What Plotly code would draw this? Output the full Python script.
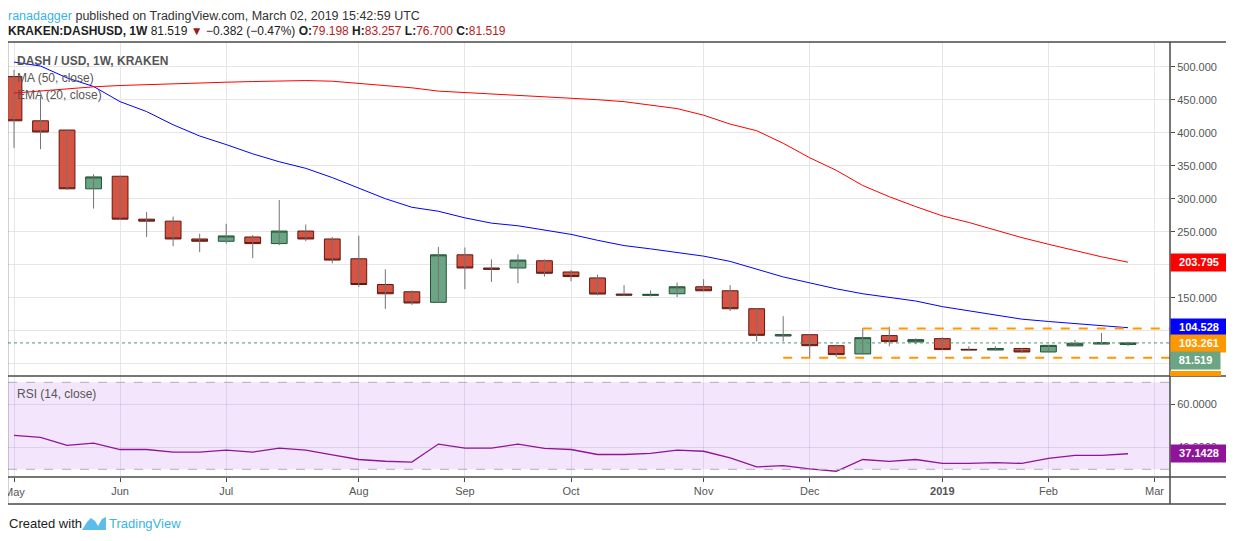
import pandas as pd
import plotly.graph_objects as go

# weekly candles, KRAKEN:DASHUSD
weeks = pd.date_range("2018-05-07", periods=43, freq="7D")

opens = [485, 418, 404, 315, 334, 269, 266, 239, 235.5, 242, 232, 251, 239, 209, 170, 159,
         143, 215, 195, 195, 206, 189, 180, 155.5, 153.5, 156, 166.6, 160.5, 133.3, 92,
         94, 77.3, 64.8, 92.6, 83, 88, 71.8, 70.8, 73.1, 67.8, 77, 79.8, 79.198]
highs = [495, 455, 405, 337, 335, 280, 273, 247, 262, 245, 298, 261, 242, 244, 193, 161,
         227, 226, 208, 215.5, 208, 192, 185, 169, 161, 173, 178, 169, 134, 122,
         94.5, 79, 104, 106, 88.5, 90, 76.4, 76.5, 74, 78.5, 86, 96.5, 83.257]
lows = [377, 375, 313, 285, 268, 242, 228, 219, 232, 210, 229.5, 235.5, 202, 166, 133, 139,
        142, 163, 174, 172, 182, 175, 153.5, 153, 152, 151, 160, 130, 84, 83.5,
        59.6, 60.5, 64, 76.4, 79.4, 70.5, 69.3, 70, 67, 67.5, 76.5, 79, 76.7]
closes = [418, 401, 315, 333, 269, 266, 239, 235.5, 243.6, 232, 251, 239, 207, 170, 156, 142,
          215, 195, 193, 207, 187, 182, 155.5, 154, 155, 166.6, 160.5, 133.3, 93, 94,
          77.3, 63.8, 89.5, 83.5, 86.5, 71.4, 71, 73.1, 67.8, 77.8, 81, 81.901, 81.519]

ma50 = [460, 463, 467, 469.5, 471.5, 473, 474.5, 475.5, 476.5, 477.5, 478.2, 479, 478, 475,
        472, 468, 463, 461, 458, 456.5, 454, 452, 450, 447, 442, 436.5, 426.5, 413, 403,
        384, 362, 343, 320, 303, 288, 274, 264, 252, 241, 231, 221, 212, 203.795]
ema20 = [507, 501, 483, 470, 447, 432, 412, 395, 382, 368, 356, 346, 332, 316, 300, 287,
         281, 271, 263, 259, 252, 246, 237, 229, 224, 218, 213, 205, 193, 181.5, 172.5,
         163.5, 156, 151, 145, 136.5, 130, 123.5, 117.5, 114, 111, 108, 104.528]
rsi14 = [45.6, 44.7, 41.0, 42.0, 39.1, 39.1, 37.9, 37.9, 38.8, 37.9, 39.7, 38.8, 36.6, 34.5,
         33.7, 33.3, 41.6, 39.7, 39.7, 41.6, 39.6, 39.1, 36.8, 36.8, 37.3, 38.8, 38.3, 35.3,
         31.1, 31.7, 30.2, 29.1, 34.5, 33.6, 34.5, 32.7, 32.7, 33.1, 32.7, 35.0, 36.4, 36.4,
         37.1428]

resistance = 103.261
resistance_from = 32      # week index where the ray starts
support = 59.0
support_from = 29
last_close = 81.519

month_ticks = ["2018-05-07", "2018-06-04", "2018-07-02", "2018-08-06", "2018-09-03",
               "2018-10-01", "2018-11-05", "2018-12-03", "2019-01-07", "2019-02-04",
               "2019-03-04"]
month_text = ["May", "Jun", "Jul", "Aug", "Sep", "Oct", "Nov", "Dec", "<b>2019</b>", "Feb", "Mar"]
price_ticks = [50, 100, 150, 200, 250, 300, 350, 400, 450, 500]
price_text = ["", "", "150.000", "", "250.000", "300.000", "350.000", "400.000", "450.000", "500.000"]
rsi_ticks = [40, 60]
rsi_text = ["40.0000", "60.0000"]

x_range = ["2018-05-05 10:00", "2019-03-08 02:00"]
x_end = x_range[1]

# the page puts the figure 8px in from the top-left corner
OFF = 8
FW, FH = 1234 - OFF, 541 - OFF
L, R, T, B = 0, 64, 34, 64


def px(x):
    return (x - OFF - L) / (FW - L - R)


def py(y):
    return (FH - B - (y - OFF)) / (FH - T - B)


split = py(376)
FONT = "Liberation Sans"
GREY = "#4a4a4a"
TICKFONT = dict(family=FONT, size=11, color="#555555")

fig = go.Figure()

# wicks
wx, wy = [], []
for d, lo, hi in zip(weeks, lows, highs):
    wx += [d, d, None]
    wy += [lo, hi, None]
fig.add_trace(go.Scatter(x=wx, y=wy, mode="lines", line=dict(color="#737375", width=1),
                         hoverinfo="skip", showlegend=False))

# bodies
fig.add_trace(go.Candlestick(
    x=weeks, open=opens, close=closes,
    high=[max(o, c) for o, c in zip(opens, closes)],
    low=[min(o, c) for o, c in zip(opens, closes)],
    increasing=dict(fillcolor="#6BA583", line=dict(color="#225437", width=1)),
    decreasing=dict(fillcolor="#D75442", line=dict(color="#5B1A13", width=1)),
    whiskerwidth=0, showlegend=False, hoverinfo="skip"))

fig.add_trace(go.Scatter(x=weeks, y=ema20, mode="lines", line=dict(color="#0000FF", width=1),
                         showlegend=False, hoverinfo="skip"))
fig.add_trace(go.Scatter(x=weeks, y=ma50, mode="lines", line=dict(color="#FF0000", width=1),
                         showlegend=False, hoverinfo="skip"))

# horizontal rays
fig.add_trace(go.Scatter(x=[weeks[resistance_from], x_end], y=[resistance, resistance],
                         mode="lines", line=dict(color="#FF9800", width=2, dash="dash"),
                         showlegend=False, hoverinfo="skip"))
fig.add_trace(go.Scatter(x=[weeks[support_from], x_end], y=[support, support],
                         mode="lines", line=dict(color="#FF9800", width=2, dash="dash"),
                         showlegend=False, hoverinfo="skip"))

# RSI
fig.add_trace(go.Scatter(x=weeks, y=rsi14, mode="lines", line=dict(color="#8E1599", width=1.3),
                         xaxis="x2", yaxis="y2", showlegend=False, hoverinfo="skip"))

right_edge = px(1227.5)
shapes = [
    dict(type="rect", xref="paper", yref="y2", x0=0, x1=1, y0=30, y1=70,
         fillcolor="#F3E6FC", line=dict(width=0), layer="below"),
    dict(type="line", xref="paper", yref="y2", x0=0, x1=1, y0=70, y1=70,
         line=dict(color="#B4ABBE", width=1, dash="dash")),
    dict(type="line", xref="paper", yref="y2", x0=0, x1=1, y0=30, y1=30,
         line=dict(color="#B4ABBE", width=1, dash="dash")),
    dict(type="line", xref="paper", yref="y", x0=0, x1=1, y0=last_close, y1=last_close,
         line=dict(color="#4C9A6E", width=1, dash="dot")),
    # frame
    dict(type="rect", xref="paper", yref="paper", x0=px(7.5), x1=right_edge, y0=py(504), y1=1,
         line=dict(color=GREY, width=1.5)),
    dict(type="line", xref="paper", yref="paper", x0=1, x1=1, y0=py(504), y1=1,
         line=dict(color=GREY, width=1.5)),
    dict(type="line", xref="paper", yref="paper", x0=px(7.5), x1=right_edge, y0=split, y1=split,
         line=dict(color=GREY, width=1.5)),
    dict(type="line", xref="paper", yref="paper", x0=px(7.5), x1=right_edge, y0=0, y1=0,
         line=dict(color=GREY, width=1.5)),
    # clipped orange price tag
    dict(type="rect", xref="paper", yref="paper", x0=1, x1=px(1221), y0=py(376), y1=py(371),
         fillcolor="#FF9800", line=dict(width=0)),
]

# small logo next to footer text
logo = [(82, 530), (87, 522), (91, 518), (95, 521), (98, 526), (102, 519), (106, 517),
        (106, 530)]
path = "M " + " L ".join(f"{px(x):.4f},{py(y):.4f}" for x, y in logo) + " Z"
shapes.append(dict(type="path", xref="paper", yref="paper", path=path,
                   fillcolor="#5CBDEA", line=dict(width=0)))


def note(x, y, text, size=12, color="#555555", **kw):
    return dict(x=px(x), y=py(y), xref="paper", yref="paper", xanchor="left",
                yanchor="middle", showarrow=False, text=text,
                font=dict(family=FONT, size=size, color=color), **kw)


annotations = [
    note(7, 16, '<span style="color:#3BB3E4">ranadagger</span> published on TradingView.com, '
                'March 02, 2019 15:42:59 UTC', size=12.5, color="#333333", borderpad=0),
    note(7, 31, '<b>KRAKEN:DASHUSD, 1W</b> 81.519 <span style="color:#9B1B1B">▼</span> '
                '−0.382 (−0.47%) <b>O:</b><span style="color:#B71C1C">79.198</span> '
                '<b>H:</b><span style="color:#B71C1C">83.257</span> '
                '<b>L:</b><span style="color:#B71C1C">76.700</span> '
                '<b>C:</b><span style="color:#B71C1C">81.519</span>', color="#222222",
         borderpad=0),
    note(15, 61, "<b>DASH / USD, 1W, KRAKEN</b>"),
    note(15, 78, "MA (50, close)"),
    note(15, 95, "EMA (20, close)"),
    note(15, 394, "RSI (14, close)"),
    note(7, 523, "Created with", size=13, color="#222222"),
    note(107, 523, "TradingView", size=13, color="#3BB3E4"),
    # first month label sits on the left edge and is cut by it
    dict(x=month_ticks[0], xref="x2", y=py(492), yref="paper", xanchor="center",
         yanchor="middle", showarrow=False, text=month_text[0], font=TICKFONT),
]

# price tags on the right scale: (value, colour, width, pixel shift, axis)
tags = [
    (ma50[-1], "#FF0000", 52, 0, "y"),
    (ema20[-1], "#0000FF", 52, 0, "y"),
    (resistance, "#FF9800", 52, -15, "y"),
    (last_close, "#6BA583", 45, -18, "y"),
    (rsi14[-1], "#8E1599", 52, 0, "y2"),
]
for val, col, wd, shift, ax in tags:
    label = f"{val:.4f}" if ax == "y2" else f"{val:.3f}"
    annotations.append(dict(
        x=1, xref="paper", y=val, yref=ax, xanchor="left", yanchor="middle", yshift=shift,
        showarrow=False, text=f"<b>{label}</b>", bgcolor=col, width=wd, height=12.5,
        borderpad=2, align="center", font=dict(family=FONT, size=11, color="white")))

fig.update_layout(
    width=FW, height=FH, margin=dict(l=L, r=R, t=T, b=B),
    paper_bgcolor="white", plot_bgcolor="white", showlegend=False, hovermode=False,
    boxgap=0.15,
    xaxis=dict(domain=[0, 1], anchor="y", type="date", range=x_range, tickvals=month_ticks,
               showticklabels=False, showgrid=True, gridcolor="#E6E6E6", zeroline=False,
               rangeslider=dict(visible=False), fixedrange=True),
    xaxis2=dict(domain=[0, 1], anchor="y2", type="date", matches="x", range=x_range,
                tickvals=month_ticks, ticktext=[""] + month_text[1:], showgrid=True,
                gridcolor="rgba(120,90,150,0.16)", ticks="outside", ticklen=4,
                tickcolor=GREY, tickfont=TICKFONT),
    yaxis=dict(domain=[split, 1], anchor="x", side="right", range=[31.4, 537.4],
               tickvals=price_ticks, ticktext=price_text, showgrid=True, gridcolor="#E6E6E6",
               zeroline=False, ticks="outside", ticklen=4, tickcolor=GREY, tickfont=TICKFONT),
    yaxis2=dict(domain=[0, split], anchor="x2", side="right", range=[26.46, 72.9],
                tickvals=rsi_ticks, ticktext=rsi_text, showgrid=True,
                gridcolor="rgba(120,90,150,0.16)", zeroline=False, ticks="outside",
                ticklen=4, tickcolor=GREY, tickfont=TICKFONT),
    shapes=shapes, annotations=annotations,
)

fig.write_html("out.html")
